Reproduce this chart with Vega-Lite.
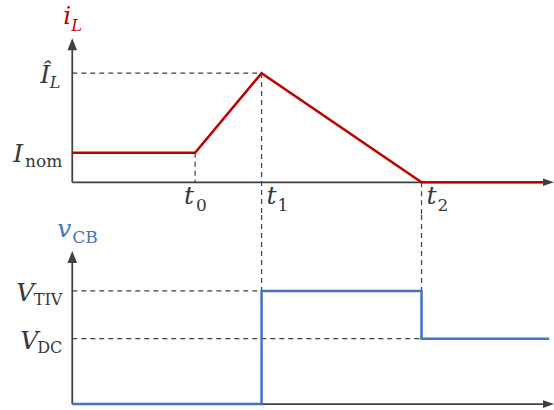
{
  "$schema": "https://vega.github.io/schema/vega-lite/v6.json",
  "padding": 0,
  "spacing": 0,
  "bounds": "flush",
  "config": {"view": {"stroke": null}},
  "datasets": {
    "iL": [
      {"n": 1, "t": 0, "i": 0.27},
      {"n": 2, "t": 2.55, "i": 0.27},
      {"n": 3, "t": 3.93, "i": 1},
      {"n": 4, "t": 7.25, "i": 0},
      {"n": 5, "t": 9.77, "i": 0}
    ],
    "vCB": [
      {"n": 1, "t": 0, "v": 0},
      {"n": 2, "t": 3.93, "v": 0},
      {"n": 3, "t": 3.93, "v": 1.73},
      {"n": 4, "t": 7.25, "v": 1.73},
      {"n": 5, "t": 7.25, "v": 1},
      {"n": 6, "t": 9.9, "v": 1}
    ],
    "guidesI": [
      {"t": 0, "t2": 3.93, "i": 1, "i2": 1},
      {"t": 2.55, "t2": 2.55, "i": 0.27, "i2": 0},
      {"t": 3.93, "t2": 3.93, "i": 1, "i2": -0.3},
      {"t": 7.25, "t2": 7.25, "i": 0, "i2": -0.3}
    ],
    "guidesV": [
      {"t": 0, "t2": 3.93, "v": 1.73, "v2": 1.73},
      {"t": 0, "t2": 7.25, "v": 1, "v2": 1},
      {"t": 3.93, "t2": 3.93, "v": 2.89, "v2": 1.73},
      {"t": 7.25, "t2": 7.25, "v": 2.89, "v2": 1}
    ],
    "axesI": [
      {"t": 0, "t2": 9.77, "i": 0, "i2": 0},
      {"t": 0, "t2": 0, "i": 0, "i2": 1.25}
    ],
    "axesV": [
      {"t": 0, "t2": 9.77, "v": 0, "v2": 0},
      {"t": 0, "t2": 0, "v": 0, "v2": 2.25}
    ],
    "arrowsI": [
      {"dir": "up", "t": 0, "i": 1.32},
      {"dir": "right", "t": 10, "i": 0}
    ],
    "arrowsV": [
      {"dir": "up", "t": 0, "v": 2.34},
      {"dir": "right", "t": 10, "v": 0}
    ],
    "labelsI": [
      {"key": "axis", "name": "i", "sub": "L", "t": 0, "i": 1.32},
      {"key": "peak", "name": "Î", "sub": "L", "t": 0, "i": 1},
      {"key": "nom", "name": "I", "sub": "nom", "t": 0, "i": 0.27},
      {"key": "t0", "name": "t", "sub": "0", "t": 2.55, "i": 0},
      {"key": "t1", "name": "t", "sub": "1", "t": 3.93, "i": 0},
      {"key": "t2", "name": "t", "sub": "2", "t": 7.25, "i": 0}
    ],
    "labelsV": [
      {"key": "axis", "name": "v", "sub": "CB", "t": 0, "v": 2.34},
      {"key": "tiv", "name": "V", "sub": "TIV", "t": 0, "v": 1.73},
      {"key": "dc", "name": "V", "sub": "DC", "t": 0, "v": 1}
    ]
  },
  "vconcat": [
    {
      "width": 554,
      "height": 215,
      "encoding": {
        "x": {"field": "t", "type": "quantitative", "scale": {"domain": [-1.5, 10], "nice": false, "zero": false}, "axis": null},
        "y": {"field": "i", "type": "quantitative", "scale": {"domain": [-0.3, 1.67], "nice": false, "zero": false}, "axis": null}
      },
      "layer": [
        {
          "data": {"name": "guidesI"},
          "mark": {"type": "rule", "color": "#404040", "strokeWidth": 1.2, "strokeDash": [5, 4]},
          "encoding": {"x2": {"field": "t2"}, "y2": {"field": "i2"}}
        },
        {
          "data": {"name": "axesI"},
          "mark": {"type": "rule", "color": "#404040", "strokeWidth": 1.75},
          "encoding": {"x2": {"field": "t2"}, "y2": {"field": "i2"}}
        },
        {
          "data": {"name": "iL"},
          "mark": {"type": "line", "color": "#C00000", "strokeWidth": 2.5},
          "encoding": {"order": {"field": "n", "type": "quantitative"}}
        },
        {
          "data": {"name": "arrowsI"},
          "mark": {"type": "point", "filled": true, "opacity": 1, "color": "#404040", "size": 144},
          "encoding": {
            "shape": {"field": "dir", "type": "nominal", "legend": null,
              "scale": {"domain": ["up", "right"], "range": ["M0,0L0.8,2L-0.8,2Z", "M0,0L-1.83,-0.64L-1.83,0.64Z"]}}
          }
        },
        {
          "data": {"name": "labelsI"},
          "transform": [{"filter": "datum.key === 'axis'"}],
          "layer": [
            {"mark": {"type": "text", "font": "DejaVu Serif", "fontStyle": "italic", "fontSize": 25, "color": "#C00000", "align": "right", "baseline": "alphabetic", "dx": -1, "dy": -14}, "encoding": {"text": {"field": "name"}}},
            {"mark": {"type": "text", "font": "DejaVu Serif", "fontStyle": "italic", "fontSize": 16, "color": "#C00000", "align": "left", "baseline": "alphabetic", "dx": -1, "dy": -7}, "encoding": {"text": {"field": "sub"}}}
          ]
        },
        {
          "data": {"name": "labelsI"},
          "transform": [{"filter": "datum.key === 'peak'"}],
          "layer": [
            {"mark": {"type": "text", "font": "DejaVu Serif", "fontStyle": "italic", "fontSize": 25, "color": "#383838", "align": "right", "baseline": "alphabetic", "dx": -22, "dy": 10}, "encoding": {"text": {"field": "name"}}},
            {"mark": {"type": "text", "font": "DejaVu Serif", "fontStyle": "italic", "fontSize": 16, "color": "#383838", "align": "right", "baseline": "alphabetic", "dx": -12, "dy": 15}, "encoding": {"text": {"field": "sub"}}}
          ]
        },
        {
          "data": {"name": "labelsI"},
          "transform": [{"filter": "datum.key === 'nom'"}],
          "layer": [
            {"mark": {"type": "text", "font": "DejaVu Serif", "fontStyle": "italic", "fontSize": 25, "color": "#383838", "align": "right", "baseline": "alphabetic", "dx": -49, "dy": 9}, "encoding": {"text": {"field": "name"}}},
            {"mark": {"type": "text", "font": "DejaVu Serif", "fontSize": 17, "color": "#383838", "align": "right", "baseline": "alphabetic", "dx": -10, "dy": 14}, "encoding": {"text": {"field": "sub"}}}
          ]
        },
        {
          "data": {"name": "labelsI"},
          "transform": [{"filter": "datum.key === 't0'"}],
          "layer": [
            {"mark": {"type": "text", "font": "DejaVu Serif", "fontStyle": "italic", "fontSize": 25, "color": "#383838", "align": "left", "baseline": "alphabetic", "dx": -11, "dy": 22}, "encoding": {"text": {"field": "name"}}},
            {"mark": {"type": "text", "font": "DejaVu Serif", "fontSize": 17, "color": "#383838", "align": "left", "baseline": "alphabetic", "dx": 1, "dy": 29}, "encoding": {"text": {"field": "sub"}}}
          ]
        },
        {
          "data": {"name": "labelsI"},
          "transform": [{"filter": "datum.key === 't1' || datum.key === 't2'"}],
          "layer": [
            {"mark": {"type": "text", "font": "DejaVu Serif", "fontStyle": "italic", "fontSize": 25, "color": "#383838", "align": "left", "baseline": "alphabetic", "dx": 5, "dy": 22}, "encoding": {"text": {"field": "name"}}},
            {"mark": {"type": "text", "font": "DejaVu Serif", "fontSize": 17, "color": "#383838", "align": "left", "baseline": "alphabetic", "dx": 16, "dy": 29}, "encoding": {"text": {"field": "sub"}}}
          ]
        }
      ]
    },
    {
      "width": 554,
      "height": 195,
      "encoding": {
        "x": {"field": "t", "type": "quantitative", "scale": {"domain": [-1.5, 10], "nice": false, "zero": false}, "axis": null},
        "y": {"field": "v", "type": "quantitative", "scale": {"domain": [-0.09, 2.89], "nice": false, "zero": false}, "axis": null}
      },
      "layer": [
        {
          "data": {"name": "guidesV"},
          "mark": {"type": "rule", "color": "#404040", "strokeWidth": 1.2, "strokeDash": [5, 4]},
          "encoding": {"x2": {"field": "t2"}, "y2": {"field": "v2"}}
        },
        {
          "data": {"name": "axesV"},
          "mark": {"type": "rule", "color": "#404040", "strokeWidth": 1.75},
          "encoding": {"x2": {"field": "t2"}, "y2": {"field": "v2"}}
        },
        {
          "data": {"name": "vCB"},
          "mark": {"type": "line", "color": "#4472C4", "strokeWidth": 2.5},
          "encoding": {"order": {"field": "n", "type": "quantitative"}}
        },
        {
          "data": {"name": "arrowsV"},
          "mark": {"type": "point", "filled": true, "opacity": 1, "color": "#404040", "size": 144},
          "encoding": {
            "shape": {"field": "dir", "type": "nominal", "legend": null,
              "scale": {"domain": ["up", "right"], "range": ["M0,0L0.8,2L-0.8,2Z", "M0,0L-1.83,-0.64L-1.83,0.64Z"]}}
          }
        },
        {
          "data": {"name": "labelsV"},
          "transform": [{"filter": "datum.key === 'axis'"}],
          "layer": [
            {"mark": {"type": "text", "font": "DejaVu Serif", "fontStyle": "italic", "fontSize": 25, "color": "#4472C4", "align": "right", "baseline": "alphabetic", "dx": -1, "dy": -14}, "encoding": {"text": {"field": "name"}}},
            {"mark": {"type": "text", "font": "DejaVu Serif", "fontSize": 17, "color": "#4472C4", "align": "left", "baseline": "alphabetic", "dx": 0, "dy": -8}, "encoding": {"text": {"field": "sub"}}}
          ]
        },
        {
          "data": {"name": "labelsV"},
          "transform": [{"filter": "datum.key === 'tiv'"}],
          "layer": [
            {"mark": {"type": "text", "font": "DejaVu Serif", "fontStyle": "italic", "fontSize": 25, "color": "#383838", "align": "right", "baseline": "alphabetic", "dx": -38, "dy": 10}, "encoding": {"text": {"field": "name"}}},
            {"mark": {"type": "text", "font": "DejaVu Serif", "fontSize": 16, "color": "#383838", "align": "right", "baseline": "alphabetic", "dx": -10, "dy": 14}, "encoding": {"text": {"field": "sub"}}}
          ]
        },
        {
          "data": {"name": "labelsV"},
          "transform": [{"filter": "datum.key === 'dc'"}],
          "layer": [
            {"mark": {"type": "text", "font": "DejaVu Serif", "fontStyle": "italic", "fontSize": 25, "color": "#383838", "align": "right", "baseline": "alphabetic", "dx": -34, "dy": 10}, "encoding": {"text": {"field": "name"}}},
            {"mark": {"type": "text", "font": "DejaVu Serif", "fontSize": 16, "color": "#383838", "align": "right", "baseline": "alphabetic", "dx": -10, "dy": 14}, "encoding": {"text": {"field": "sub"}}}
          ]
        }
      ]
    }
  ]
}
